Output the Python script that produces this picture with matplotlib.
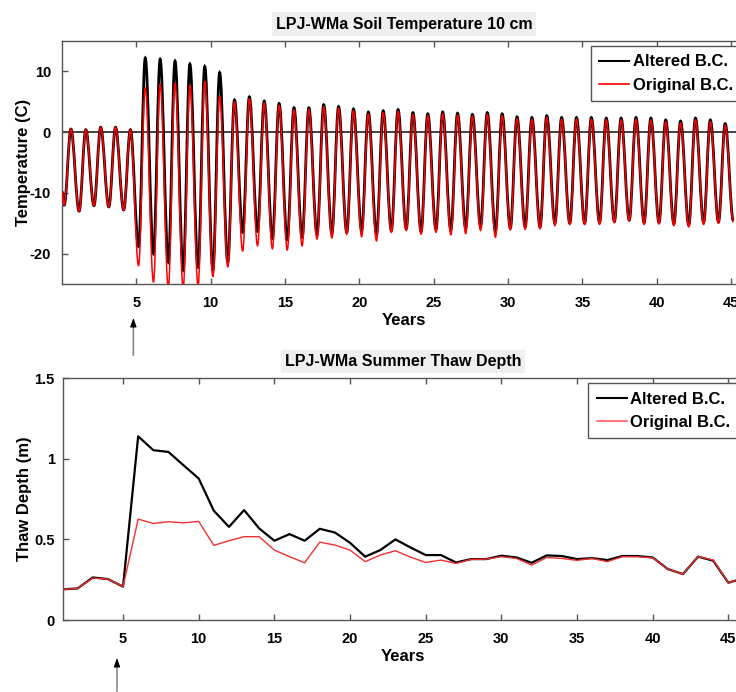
import matplotlib
matplotlib.use("Agg")
import matplotlib.pyplot as plt
from matplotlib.path import Path
from matplotlib.patches import PathPatch
from matplotlib.lines import Line2D

plt.rcParams['font.family'] = ['Liberation Sans', 'DejaVu Sans']
plt.rcParams['font.weight'] = 'bold'
plt.rcParams['font.size'] = 10.5
plt.rcParams['axes.unicode_minus'] = False

# --- soil temperature at 10 cm: value at t=0, then winter low / summer high for each year
temp_start = -9.8
alt_min = [-12.0, -13.0, -12.1, -12.3, -12.8, -18.8, -20.0, -21.4, -22.7, -22.2,
           -22.7, -21.4, -16.5, -16.3, -17.5, -17.7, -17.3, -16.9, -16.7, -16.5,
           -16.2, -16.8, -16.2, -15.9, -16.4, -16.0, -16.1, -15.8, -15.5, -16.3,
           -15.8, -15.6, -15.6, -15.0, -15.0, -15.0, -14.9, -14.7, -14.5, -14.9,
           -14.9, -15.1, -15.3, -14.9, -14.8, -14.6]
orig_min = [-12.0, -13.0, -12.1, -12.3, -12.8, -22.0, -24.7, -25.6, -25.6, -25.3,
            -23.8, -22.2, -19.6, -18.7, -19.2, -19.4, -18.7, -17.6, -17.4, -16.8,
            -17.2, -17.9, -16.5, -16.2, -16.8, -16.5, -16.9, -16.7, -16.2, -17.3,
            -16.1, -16.0, -15.9, -15.4, -15.2, -15.2, -15.2, -14.9, -14.6, -15.2,
            -15.1, -15.4, -15.6, -15.2, -15.0, -14.8]
alt_max = [0.5, 0.4, 0.8, 0.8, 0.4, 12.2, 12.0, 11.7, 11.2, 10.8,
           9.8, 5.3, 5.8, 5.1, 4.7, 4.0, 4.0, 4.5, 4.2, 3.8,
           3.3, 3.5, 3.7, 3.2, 3.0, 3.3, 3.1, 2.9, 3.2, 3.0,
           2.5, 2.4, 2.7, 2.4, 2.4, 2.4, 2.3, 2.3, 2.4, 2.3,
           2.0, 1.8, 2.3, 2.0, 1.4]
orig_max = [0.5, 0.4, 0.8, 0.8, 0.4, 7.3, 7.9, 8.1, 7.8, 8.4,
            5.9, 5.0, 5.5, 4.8, 4.4, 3.7, 3.7, 4.2, 3.9, 3.5,
            3.0, 3.2, 3.4, 2.9, 2.7, 3.0, 2.8, 2.6, 2.9, 2.7,
            2.2, 2.1, 2.4, 2.1, 2.1, 2.1, 2.0, 2.0, 2.1, 2.0,
            1.7, 1.5, 2.0, 1.7, 1.1]

# timing within the year of the winter low and summer high
MIN_PHASE = 0.15
MAX_PHASE = 0.6

# --- summer thaw depth (m) per year
thaw_years = list(range(1, 47))
thaw_alt = [0.19, 0.196, 0.264, 0.254, 0.207, 1.14, 1.054, 1.043, 0.96, 0.878,
            0.678, 0.578, 0.682, 0.568, 0.492, 0.533, 0.492, 0.566, 0.543, 0.479,
            0.393, 0.434, 0.50, 0.45, 0.403, 0.403, 0.357, 0.378, 0.378, 0.399,
            0.388, 0.355, 0.401, 0.397, 0.378, 0.384, 0.372, 0.397, 0.397, 0.388,
            0.316, 0.285, 0.393, 0.368, 0.231, 0.26]
thaw_orig = [0.19, 0.196, 0.26, 0.254, 0.207, 0.626, 0.599, 0.61, 0.603, 0.612,
             0.463, 0.492, 0.517, 0.517, 0.434, 0.393, 0.355, 0.483, 0.465, 0.434,
             0.362, 0.403, 0.43, 0.39, 0.357, 0.372, 0.351, 0.376, 0.378, 0.393,
             0.382, 0.341, 0.388, 0.382, 0.37, 0.382, 0.362, 0.393, 0.393, 0.386,
             0.316, 0.285, 0.393, 0.372, 0.231, 0.26]

labels = ["Altered B.C.", "Original B.C."]
SPINE = '#555555'


def seasonal_path(start, lows, highs):
    # alternate low/high; each half cycle is one cubic curve with flat ends
    pts = [(0.0, start)]
    for k, lo in enumerate(lows):
        pts.append((k + MIN_PHASE, lo))
        if k < len(highs):
            pts.append((k + MAX_PHASE, highs[k]))
    verts = [pts[0]]
    codes = [Path.MOVETO]
    for (x0, y0), (x1, y1) in zip(pts[:-1], pts[1:]):
        d = 0.363 * (x1 - x0)
        verts += [(x0 + d, y0), (x1 - d, y1), (x1, y1)]
        codes += [Path.CURVE4] * 3
    return Path(verts, codes)


def style_axes(ax, ypad):
    for s in ax.spines.values():
        s.set_color(SPINE)
        s.set_linewidth(1.0)
    ax.tick_params(direction='in', top=True, right=True, length=4, width=1,
                   color=SPINE, labelsize=10.5)
    ax.tick_params(axis='x', pad=8.5)
    ax.tick_params(axis='y', pad=ypad)
    ax.set_xticks([5, 10, 15, 20, 25, 30, 35, 40, 45])


def add_legend(ax, red):
    handles = [Line2D([], [], color='black', lw=1.5),
               Line2D([], [], color=red, lw=1.2)]
    leg = ax.legend(handles, labels, loc='upper right', fancybox=False,
                    edgecolor=SPINE, framealpha=1, handlelength=1.8,
                    handletextpad=0.2, borderpad=0.5, labelspacing=0.5,
                    borderaxespad=0.3, prop={'weight': 'bold', 'size': 12})
    leg.get_frame().set_linewidth(1.0)


def add_arrow(ax, x, tip, tail):
    ax.annotate('', xy=(x, tip), xycoords=('data', 'figure pixels'),
                xytext=(x, tail), textcoords=('data', 'figure pixels'),
                arrowprops=dict(arrowstyle='-', color='#8a8a8a', lw=1.2),
                annotation_clip=False)
    ax.annotate('', xy=(x, tip), xycoords=('data', 'figure pixels'),
                xytext=(x, tip - 9), textcoords=('data', 'figure pixels'),
                arrowprops=dict(arrowstyle='-|>,head_width=0.18,head_length=0.5',
                                color='black', lw=0.8, shrinkA=0, shrinkB=0),
                annotation_clip=False)


fig = plt.figure(figsize=(7.36, 6.92), dpi=100)
W, H = 736.0, 692.0

# top panel
ax1 = fig.add_axes([62 / W, (H - 284) / H, 684 / W, 243 / H])
ax1.axhline(0, color='#333333', lw=1.3, zorder=1)
ax1.add_patch(PathPatch(seasonal_path(temp_start, alt_min, alt_max),
                        fill=False, edgecolor='black', lw=2.0, zorder=2))
ax1.add_patch(PathPatch(seasonal_path(temp_start, orig_min, orig_max),
                        fill=False, edgecolor='#ff0000', lw=1.1, zorder=3))
ax1.set_xlim(0, 46)
ax1.set_ylim(-25, 15)
ax1.set_yticks([-20, -10, 0, 10])
style_axes(ax1, 8)
ax1.set_xlabel('Years', fontsize=12, fontweight='bold', labelpad=2)
ax1.set_ylabel('Temperature (C)', fontsize=12, fontweight='bold')
ax1.yaxis.set_label_coords(-0.045, 0.5)
ax1.set_title('LPJ-WMa Soil Temperature 10 cm', fontsize=11.5, fontweight='bold', pad=9,
              bbox=dict(facecolor='#efefef', edgecolor='none', pad=3))
add_legend(ax1, '#ff0000')
add_arrow(ax1, 4.8, H - 318, H - 358)

# bottom panel
ax2 = fig.add_axes([62.5 / W, (H - 620) / H, 681 / W, 241.7 / H])
ax2.plot(thaw_years, thaw_alt, color='black', lw=1.6, zorder=2)
ax2.plot(thaw_years, thaw_orig, color='#ee3030', lw=1.0, zorder=3)
ax2.set_xlim(1, 46)
ax2.set_ylim(0, 1.5)
ax2.set_yticks([0, 0.5, 1, 1.5])
ax2.set_yticklabels(['0', '0.5', '1', '1.5'])
style_axes(ax2, 5.5)
ax2.set_xlabel('Years', fontsize=12, fontweight='bold', labelpad=2)
ax2.set_ylabel('Thaw Depth (m)', fontsize=12, fontweight='bold')
ax2.yaxis.set_label_coords(-0.045, 0.5)
ax2.set_title('LPJ-WMa Summer Thaw Depth', fontsize=11.5, fontweight='bold', pad=9,
              bbox=dict(facecolor='#efefef', edgecolor='none', pad=3))
add_legend(ax2, '#ff6060')
add_arrow(ax2, 4.6, H - 658, -2)

fig.savefig('out.png', dpi=100)
